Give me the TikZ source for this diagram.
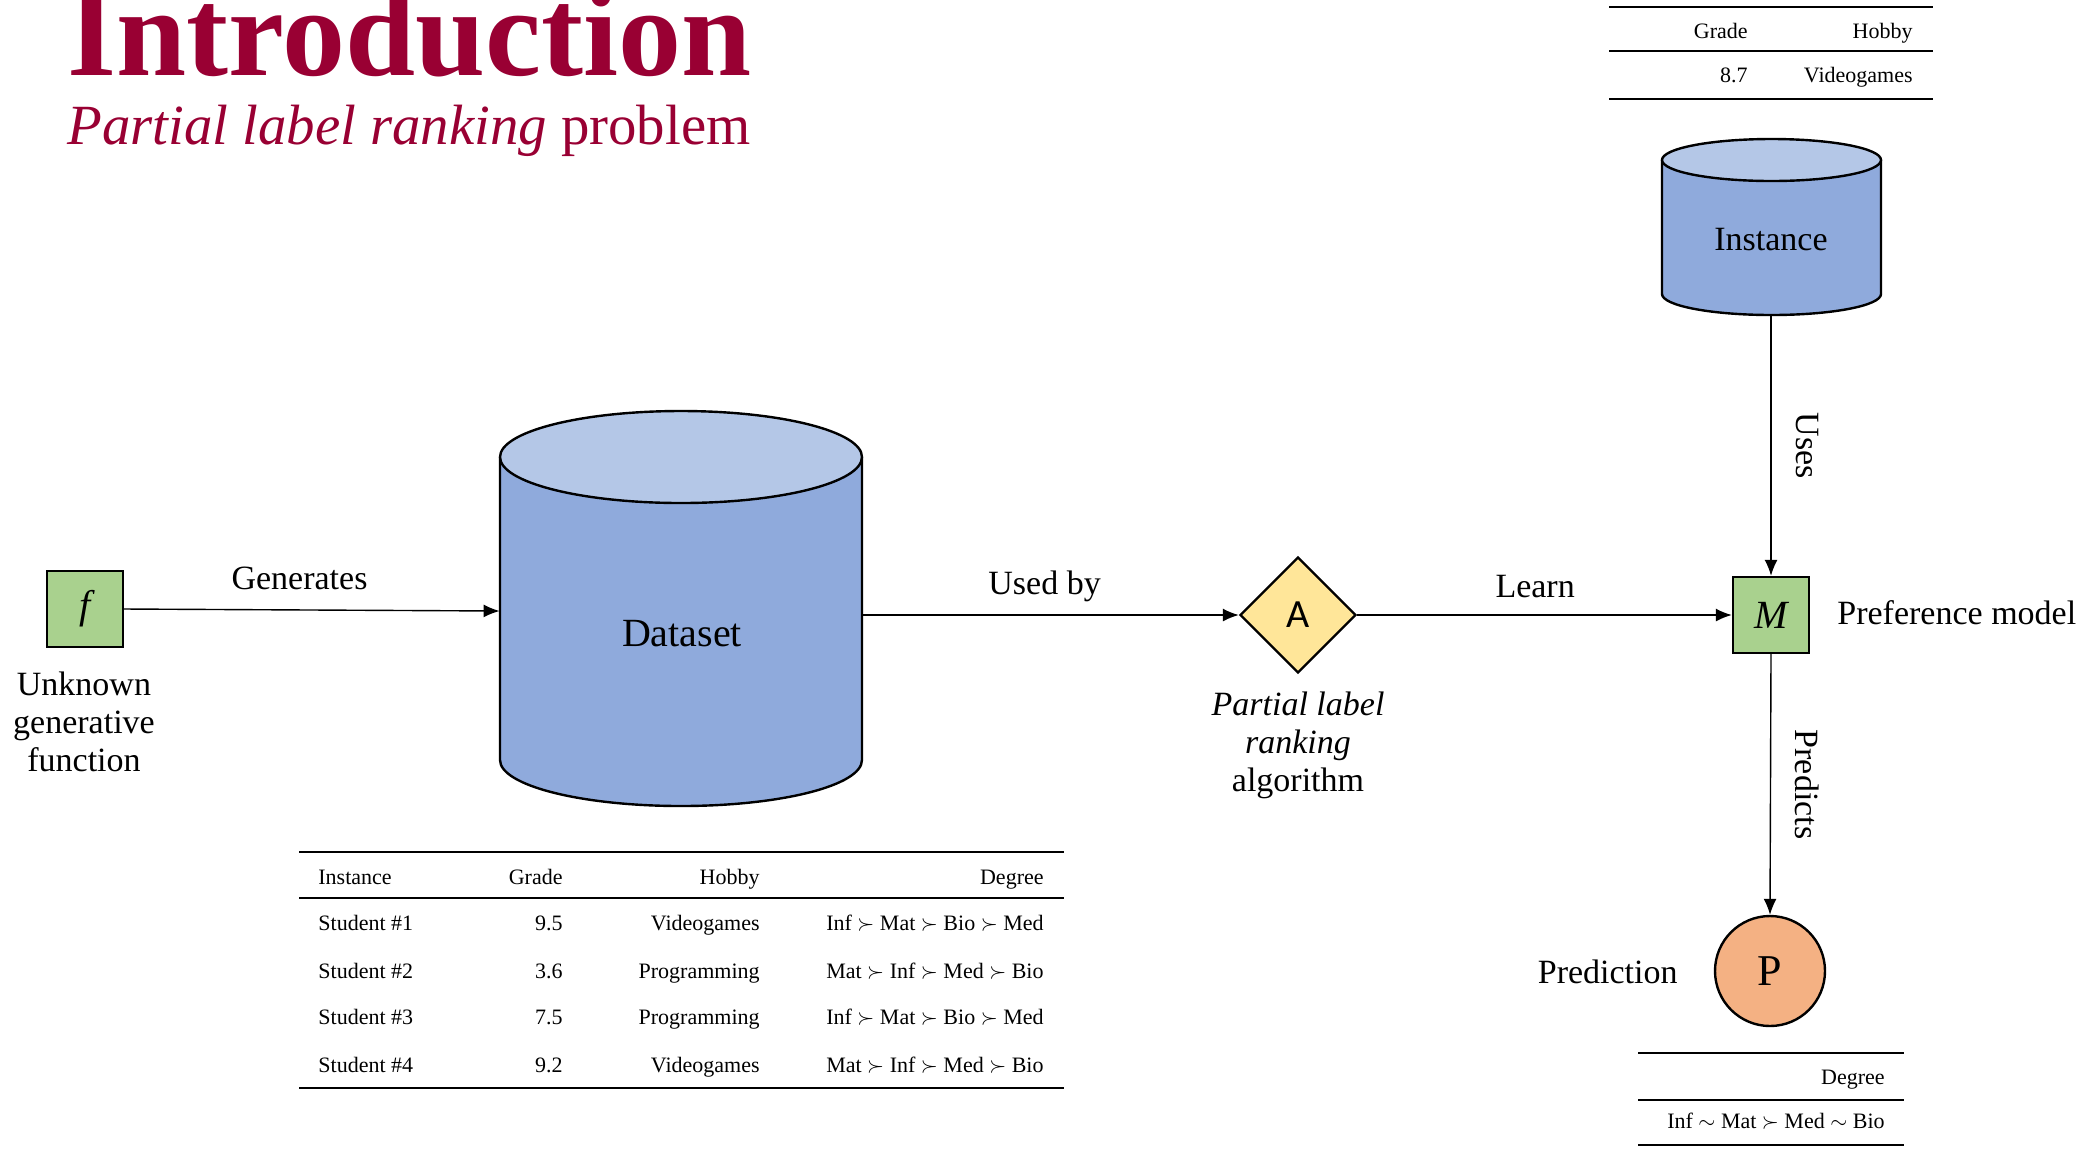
\documentclass[tikz,border=0pt]{standalone}
\usepackage{fontspec}
\setmainfont{Liberation Serif}
\newfontfamily\sansA{Carlito}
\usetikzlibrary{shapes.geometric,arrows.meta}
\definecolor{titlered}{RGB}{153,0,51}
\definecolor{boxgreen}{HTML}{A9D18E}
\definecolor{diayellow}{HTML}{FFE699}
\definecolor{circorange}{HTML}{F4B183}
\definecolor{cylbody}{HTML}{8FAADC}
\definecolor{cyltop}{HTML}{B4C7E7}
\begin{document}
\begin{tikzpicture}[x=0.5pt,y=-0.5pt,
  box/.style={rectangle, draw, line width=1.2pt, fill=boxgreen, minimum size=38pt, inner sep=0pt, font=\fontsize{20}{22}\selectfont\itshape},
  arr/.style={-{Latex[length=8pt,width=6.5pt]}, line width=0.7pt},
  lbl/.style={inner sep=0pt, font=\fontsize{17}{19}\selectfont},
  cylline/.style={line width=1.2pt},
  cell/.style={inner sep=0pt, font=\fontsize{11}{13}\selectfont},
  thickrule/.style={line width=1pt},
  thinrule/.style={line width=0.7pt}]
\useasboundingbox (0,0) rectangle (2093,1148);

% Title
\node[anchor=base west, inner sep=0pt, text=titlered, font=\fontsize{63}{70}\selectfont\bfseries] (title) at (67,75) {Introduction};
\node[anchor=base west, inner sep=0pt, text=titlered, font=\fontsize{28.4}{32}\selectfont] (subtitle) at (67,144) {\textit{Partial label ranking} problem};

% Dataset cylinder
\fill[cylbody] (500,457) -- (500,760) arc[start angle=180,end angle=360,x radius=90.5pt,y radius=23pt] -- (862,457) -- cycle;
\draw[cylline] (500,457) -- (500,760) arc[start angle=180,end angle=360,x radius=90.5pt,y radius=23pt] -- (862,457);
\draw[cylline, fill=cyltop] (681,457) ellipse [x radius=90.5pt, y radius=23pt];
\node[minimum width=181pt, minimum height=200pt, inner sep=0pt] (dataset) at (681,611) {};
\node[inner sep=0pt, font=\fontsize{20}{22}\selectfont] (datasettxt) at (682,634) {Dataset};

% Instance cylinder
\fill[cylbody] (1662,160) -- (1662,294) arc[start angle=180,end angle=360,x radius=54.75pt,y radius=10.5pt] -- (1881,160) -- cycle;
\draw[cylline] (1662,160) -- (1662,294) arc[start angle=180,end angle=360,x radius=54.75pt,y radius=10.5pt] -- (1881,160);
\draw[cylline, fill=cyltop] (1771.5,160) ellipse [x radius=54.75pt, y radius=10.5pt];
\node[minimum width=109.5pt, minimum height=88pt, inner sep=0pt] (instance) at (1771,227) {};
\node[lbl] (instancetxt) at (1771,240) {Instance};

% Main nodes
\node[box] (f) at (85,609) {f};
\node[box] (M) at (1771,615) {M};
\node[diamond, draw, line width=1.2pt, fill=diayellow, minimum width=58pt, minimum height=58pt, inner sep=0pt, font=\fontsize{20}{22}\sansA] (A) at (1298,615) {A};
\node[circle, draw, line width=1.2pt, fill=circorange, minimum size=55pt, inner sep=0pt, font=\fontsize{22}{24}\selectfont] (P) at (1770,971) {P};

% Labels
\node[lbl, align=center] (flbl) at (84,722) {Unknown\\generative\\function};
\node[lbl, align=center] (Albl) at (1298,745) {\textit{Partial label}\\\textit{ranking}\\algorithm};
\node[lbl, anchor=west] (Mlbl) at (1837,613) {Preference model};
\node[lbl, anchor=east] (Plbl) at (1678,972) {Prediction};

% Connectors
\draw[arr] (f.east) -- node[lbl, pos=0.467, above=9.5pt] (gen) {Generates} (dataset.west);
\draw[arr] (A -| dataset.east) -- node[lbl, pos=0.484, above=6pt] (usedby) {Used by} (A.west);
\draw[arr] (A.east) -- node[lbl, pos=0.475, above=8pt] (learn) {Learn} (M.west);
\draw[arr] (instance.south) -- node[lbl, rotate=-90, anchor=south, yshift=12pt] (uses) {Uses} (M.north);
\draw[arr] (M.south) -- node[lbl, rotate=-90, anchor=south, yshift=12pt] (predicts) {Predicts} (P.north);

% Top table
\draw[thickrule] (1609,7) -- (1933,7);
\draw[thinrule] (1609,51) -- (1933,51);
\draw[thickrule] (1609,99) -- (1933,99);
\node[cell, anchor=base east] (tt11) at (1748,38) {Grade};
\node[cell, anchor=base east] (tt12) at (1913,38) {Hobby};
\node[cell, anchor=base east] (tt21) at (1748,82) {8.7};
\node[cell, anchor=base east] (tt22) at (1913,82) {Videogames};

% Bottom-right table
\draw[thickrule] (1638,1053) -- (1904,1053);
\draw[thinrule] (1638,1100) -- (1904,1100);
\draw[thickrule] (1638,1145) -- (1904,1145);
\node[cell, anchor=base east] (bt1) at (1885,1084) {Degree};
\node[cell, anchor=base east] (bt2) at (1885,1128) {Inf $\sim$ Mat $\succ$ Med $\sim$ Bio};

% Main table
\draw[thickrule] (299,852) -- (1064,852);
\draw[thinrule] (299,898) -- (1064,898);
\draw[thickrule] (299,1088) -- (1064,1088);
\node[cell, anchor=base west] (h1) at (318,884) {Instance};
\node[cell, anchor=base east] (h2) at (563,884) {Grade};
\node[cell, anchor=base east] (h3) at (760,884) {Hobby};
\node[cell, anchor=base east] (h4) at (1044,884) {Degree};
\node[cell, anchor=base west] (r11) at (318,930) {Student \#1};
\node[cell, anchor=base east] (r12) at (563,930) {9.5};
\node[cell, anchor=base east] (r13) at (760,930) {Videogames};
\node[cell, anchor=base east] (r14) at (1044,930) {Inf $\succ$ Mat $\succ$ Bio $\succ$ Med};
\node[cell, anchor=base west] (r21) at (318,978) {Student \#2};
\node[cell, anchor=base east] (r22) at (563,978) {3.6};
\node[cell, anchor=base east] (r23) at (760,978) {Programming};
\node[cell, anchor=base east] (r24) at (1044,978) {Mat $\succ$ Inf $\succ$ Med $\succ$ Bio};
\node[cell, anchor=base west] (r31) at (318,1024) {Student \#3};
\node[cell, anchor=base east] (r32) at (563,1024) {7.5};
\node[cell, anchor=base east] (r33) at (760,1024) {Programming};
\node[cell, anchor=base east] (r34) at (1044,1024) {Inf $\succ$ Mat $\succ$ Bio $\succ$ Med};
\node[cell, anchor=base west] (r41) at (318,1072) {Student \#4};
\node[cell, anchor=base east] (r42) at (563,1072) {9.2};
\node[cell, anchor=base east] (r43) at (760,1072) {Videogames};
\node[cell, anchor=base east] (r44) at (1044,1072) {Mat $\succ$ Inf $\succ$ Med $\succ$ Bio};
\end{tikzpicture}
\end{document}
